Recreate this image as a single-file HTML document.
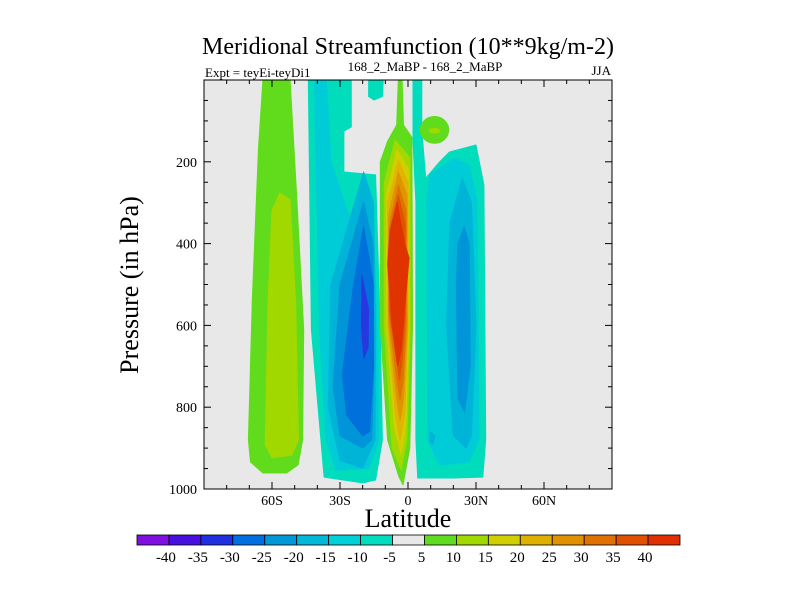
<!DOCTYPE html>
<html><head><meta charset="utf-8"><style>
html,body{margin:0;padding:0;background:#fff;}
svg{display:block;font-family:"Liberation Serif",serif;}
</style></head><body>
<svg id="chart" width="800" height="600">
<text x="408" y="54" text-anchor="middle" font-size="24">Meridional Streamfunction (10**9kg/m-2)</text>
<text x="205" y="77" font-size="13">Expt = teyEi-teyDi1</text>
<text x="425" y="71" text-anchor="middle" font-size="13">168_2_MaBP - 168_2_MaBP</text>
<text x="611" y="75" text-anchor="end" font-size="13">JJA</text>
<text transform="translate(138,285) rotate(-90)" text-anchor="middle" font-size="26">Pressure (in hPa)</text>
<text x="408" y="527" text-anchor="middle" font-size="26">Latitude</text>
<defs><clipPath id="pc"><rect x="204" y="80" width="408" height="409"/></clipPath></defs>
<rect x="204" y="80" width="408" height="409" fill="#e8e8e8"/>
<g id="contours" clip-path="url(#pc)"></g>
<g id="axes"></g>
<rect x="204" y="80" width="408" height="409" fill="none" stroke="#000" stroke-width="1"/>
<g id="colorbar"></g>
</svg>
<script>
const levelColors = {"-30":"#2838e0","-25":"#0070dc","-20":"#0094d8","-15":"#00b4d8","-10":"#00ccd8","-5":"#00dcbc","0":"#e8e8e8","5":"#60dc1c","10":"#a0d800","15":"#d0d000","20":"#e0b400","25":"#e09400","30":"#e07400","35":"#e05400","40":"#e03400"};
const cbColors = ["#8010e0","#4810e0","#2030e0","#0070e0","#0098d8","#00b8d8","#00d0d8","#00dcc0","#e8e8e8","#60dc20","#a0d800","#d0d000","#e0b000","#e09000","#e07000","#e05000","#e03000"];
const cbLabels = ["-40","-35","-30","-25","-20","-15","-10","-5","5","10","15","20","25","30","35","40"];
const xTicks = [-60,-30,0,30,60];
const xTickLabels = ["60S","30S","0","30N","60N"];
const yTicks = [200,400,600,800,1000];
// contour regions: [level, [[lat,pressure],...]]
const contourRegions = [
 [5, [[-64,0],[-52,0],[-49,293],[-46,611],[-46.5,880],[-48.5,941],[-53.5,961],[-64,961],[-69.5,934],[-70.4,880],[-68.7,538],[-66,171]]],
 [10,[[-56.5,276],[-52,293],[-49.6,538],[-48.3,880],[-51.3,917],[-60,924],[-63,892],[-61.7,538],[-60,318]]],
 [-5,[[-44,0],[-25,0],[-25,115],[-28.3,125],[-28.3,225],[-14.3,232],[-12.2,611],[-11.3,880],[-14.3,978],[-20,985],[-37,971],[-42.6,611]]],
 [-5,[[-17.4,0],[-10.9,0],[-11.3,40],[-15,49],[-17.4,40]]],
 [-10,[[-41.3,0],[-36,0],[-34,200],[-26,330],[-15.2,370],[-13.5,611],[-13,880],[-17,949],[-31.7,954],[-36.1,880],[-39,611]]],
 [-15,[[-19.6,225],[-15.2,300],[-14.3,611],[-14.5,880],[-20,949],[-30,930],[-35.2,800],[-34,500]]],
 [-20,[[-19.6,298],[-15.5,400],[-15,700],[-16,880],[-20,900],[-30,870],[-33,750],[-30,500]]],
 [-25,[[-19.6,359],[-15.2,500],[-15.2,700],[-17,860],[-20,870],[-27,820],[-29,720],[-24,500]]],
 [-30,[[-20.4,477],[-17.4,560],[-17.6,655],[-19.5,680],[-20.6,600]]],
 [5, [[-4.3,0],[-2.6,0],[-2,110],[1.7,140],[2,600],[0.8,900],[-2.2,990],[-4,970],[-9,880],[-12.2,600],[-12.2,200],[-9,150],[-5,110]]],
 [10,[[-5.7,147],[0.9,190],[1,600],[-0.5,880],[-3,954],[-7,900],[-10.5,600],[-10.5,250]]],
 [15,[[-4.8,171],[0.4,220],[0.5,600],[-1,850],[-3,917],[-6,850],[-9.5,600],[-9.5,280]]],
 [20,[[-4.3,196],[0,250],[0,600],[-1.5,820],[-3.5,880],[-5.5,820],[-9,600],[-9,300]]],
 [25,[[-4.3,225],[-0.5,280],[-0.3,600],[-2,780],[-3.5,831],[-5,780],[-8.5,600],[-8.5,330]]],
 [30,[[-4.3,257],[-0.8,320],[-0.8,600],[-2.3,740],[-3.5,782],[-4.8,740],[-8.3,580],[-8.3,360]]],
 [35,[[-4.3,281],[-1.3,350],[-1.3,580],[-2.7,690],[-3.8,734],[-4.8,690],[-8.3,560],[-8.3,400]]],
 [40,[[-4.8,298],[-1.5,400],[0.5,435],[-1.5,560],[-3,660],[-4.5,700],[-7,600],[-9,450],[-8,370]]],
 [-5,[[2.2,0],[6.1,0],[6.1,122],[7.8,240],[14,200],[18.3,176],[30,159],[33.5,257],[34.3,880],[33,971],[20,973],[4.3,973],[3.5,880],[3.5,300],[2.2,150]]],
 [0, [[10.9,751],[13.9,760],[13.9,790],[11.5,790]]],
 [-10,[[9.6,232],[20.4,191],[27,208],[30.5,293],[31.3,880],[27,934],[13.9,941],[8.7,880],[8.3,293]]],
 [-15,[[23.9,240],[28,300],[30,600],[28,870],[25.7,900],[20,870],[17,600],[18.5,350]]],
 [-15,[[9.6,860],[12,870],[11,890],[9.6,885]]],
 [-20,[[24.8,359],[27,400],[27.5,700],[25,812],[22,780],[21.3,500],[22,400]]]
];
// closed cells: [level, centerLat, centerP, halfWidthDeg, halfHeightHPa]
const closedCells = [[5,11.7,122,6.5,34],[10,11.7,124,2.6,7]];

const NS="http://www.w3.org/2000/svg";
const X0=204,X1=612,Y0=80,Y1=489;
function xs(lat){return 408+lat*(X1-X0)/180;}
function ys(p){return Y0+p*(Y1-Y0)/1000;}
function mk(tag,attrs,parent){const e=document.createElementNS(NS,tag);for(const k in attrs)e.setAttribute(k,attrs[k]);parent.appendChild(e);return e;}
const cg=document.getElementById('contours');
contourRegions.forEach((r,i)=>{
 const pts=r[1].map(v=>xs(v[0]).toFixed(1)+','+ys(v[1]).toFixed(1)).join(' ');
 const el=mk('polygon',{points:pts,fill:levelColors[String(r[0])],stroke:levelColors[String(r[0])],'stroke-width':1,'stroke-linejoin':'round'},cg);
 
 
});
closedCells.forEach(c=>{
 const el=mk('ellipse',{cx:xs(c[1]),cy:ys(c[2]),rx:c[3]*(X1-X0)/180,ry:c[4]*(Y1-Y0)/1000,fill:levelColors[String(c[0])]},cg);
 
 
});
const ag=document.getElementById('axes');
for(let lat=-80;lat<=80;lat+=10){
 const major=lat%30===0, L=major?7:4;
 mk('line',{x1:xs(lat),x2:xs(lat),y1:Y1,y2:Y1-L,stroke:'#000'},ag);
 mk('line',{x1:xs(lat),x2:xs(lat),y1:Y0,y2:Y0+L,stroke:'#000'},ag);
}
for(let p=50;p<1000;p+=50){
 const major=p%200===0, L=major?7:4;
 mk('line',{x1:X0,x2:X0+L,y1:ys(p),y2:ys(p),stroke:'#000'},ag);
 mk('line',{x1:X1,x2:X1-L,y1:ys(p),y2:ys(p),stroke:'#000'},ag);
}
xTicks.forEach((v,i)=>{
 const t=mk('text',{x:xs(v),y:Y1+16,'text-anchor':'middle','font-size':14},ag);
 t.textContent=xTickLabels[i];
 
 
});
yTicks.forEach(v=>{
 const t=mk('text',{x:X0-7,y:ys(v)+5,'text-anchor':'end','font-size':14},ag);
 t.textContent=String(v);
 
 
});
const cb=document.getElementById('colorbar');
const cbX=137,cbW=(680-137)/cbColors.length;
cbColors.forEach((c,i)=>{
 const r=mk('rect',{x:cbX+i*cbW,y:535,width:cbW,height:10,fill:c,stroke:'#000','stroke-width':0.8},cb);
 
 
});
cbLabels.forEach((l,i)=>{
 const t=mk('text',{x:cbX+(i+1)*cbW-3,y:562,'text-anchor':'middle','font-size':15},cb);
 t.textContent=l;
 
 
});
</script>
</body></html>
